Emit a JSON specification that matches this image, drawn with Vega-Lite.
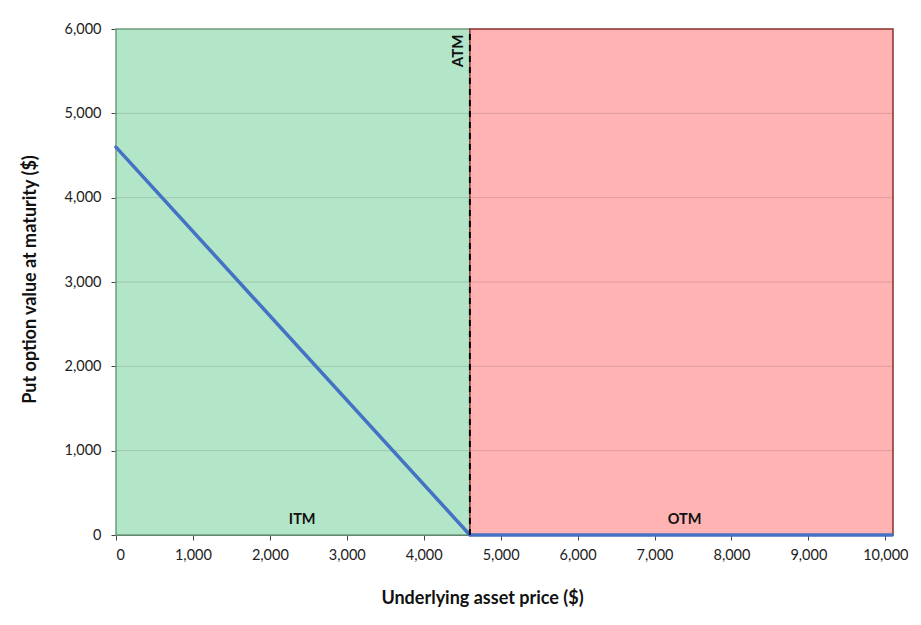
{
  "$schema": "https://vega.github.io/schema/vega-lite/v6.json",
  "width": 777,
  "height": 506,
  "autosize": "none",
  "padding": {"left": 116, "top": 29, "right": 28, "bottom": 90},
  "background": "white",
  "config": {
    "view": {"stroke": null},
    "font": "Lato",
    "axis": {
      "labelFont": "Lato",
      "labelFontSize": 14.5,
      "labelColor": "#222",
      "titleFont": "Lato",
      "titleFontSize": 18,
      "titleFontWeight": "bold",
      "titleColor": "#111",
      "domainColor": "#444",
      "tickColor": "#444",
      "tickSize": 5
    }
  },
  "layer": [
    {
      "data": {
        "values": [
          {"zone": "ITM", "from": 0, "to": 4600, "low": 0, "high": 6000},
          {"zone": "OTM", "from": 4600, "to": 10100, "low": 0, "high": 6000}
        ]
      },
      "mark": {"type": "rect", "strokeWidth": 1.5},
      "encoding": {
        "x": {
          "field": "from",
          "type": "quantitative",
          "scale": {"domain": [0, 10100], "nice": false},
          "axis": {
            "title": "Underlying asset price ($)",
            "values": [0, 1000, 2000, 3000, 4000, 5000, 6000, 7000, 8000, 9000, 10000],
            "format": ",d",
            "grid": false,
            "labelPadding": 8,
            "titlePadding": 28,
            "titleX": 366,
            "titleAlign": "center"
          }
        },
        "x2": {"field": "to"},
        "y": {
          "field": "low",
          "type": "quantitative",
          "scale": {"domain": [0, 6000], "nice": false},
          "axis": {
            "title": "Put option value at maturity ($)",
            "values": [0, 1000, 2000, 3000, 4000, 5000, 6000],
            "format": ",d",
            "grid": false,
            "labelPadding": 10,
            "titlePadding": 25,
            "titleY": 250,
            "titleAlign": "center"
          }
        },
        "y2": {"field": "high"},
        "fill": {
          "field": "zone",
          "type": "nominal",
          "scale": {"domain": ["ITM", "OTM"], "range": ["#b3e6c8", "#ffb3b3"]},
          "legend": null
        },
        "stroke": {
          "field": "zone",
          "type": "nominal",
          "scale": {"domain": ["ITM", "OTM"], "range": ["#6e9c7e", "#8a2f2f"]},
          "legend": null
        }
      }
    },
    {
      "data": {"values": [{"v": 1000}, {"v": 2000}, {"v": 3000}, {"v": 4000}, {"v": 5000}]},
      "mark": {"type": "rule", "color": "#000", "opacity": 0.13, "strokeWidth": 1},
      "encoding": {
        "y": {"field": "v", "type": "quantitative"}
      }
    },
    {
      "data": {
        "values": [
          {"price": 0, "value": 4600},
          {"price": 4600, "value": 0},
          {"price": 10090, "value": 0}
        ]
      },
      "mark": {"type": "line", "color": "#4472c4", "strokeWidth": 3.5, "strokeCap": "round"},
      "encoding": {
        "x": {"field": "price", "type": "quantitative"},
        "y": {"field": "value", "type": "quantitative"}
      }
    },
    {
      "data": {"values": [{"strike": 4600, "low": 0, "high": 6000}]},
      "mark": {"type": "rule", "color": "#000", "strokeWidth": 2, "strokeDash": [6, 5]},
      "encoding": {
        "x": {"field": "strike", "type": "quantitative"},
        "y": {"field": "low", "type": "quantitative"},
        "y2": {"field": "high"}
      }
    },
    {
      "data": {
        "values": [
          {"label": "ITM", "px": 2420, "py": 178},
          {"label": "OTM", "px": 7390, "py": 178}
        ]
      },
      "mark": {"type": "text", "font": "Lato", "fontSize": 14.5, "fontWeight": "bold", "color": "#111", "align": "center", "baseline": "middle"},
      "encoding": {
        "x": {"field": "px", "type": "quantitative"},
        "y": {"field": "py", "type": "quantitative"},
        "text": {"field": "label"}
      }
    },
    {
      "data": {"values": [{"label": "ATM", "px": 4450, "py": 5740}]},
      "mark": {"type": "text", "font": "Lato", "fontSize": 15, "fontWeight": "bold", "color": "#111", "align": "center", "baseline": "middle", "angle": 270},
      "encoding": {
        "x": {"field": "px", "type": "quantitative"},
        "y": {"field": "py", "type": "quantitative"},
        "text": {"field": "label"}
      }
    }
  ]
}
